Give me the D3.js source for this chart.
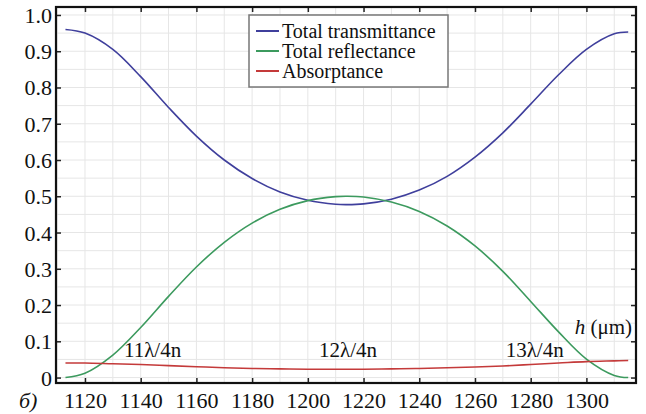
<!DOCTYPE html>
<html><head><meta charset="utf-8">
<script src="https://cdn.jsdelivr.net/npm/d3@7"></script>
<style>
@font-face{font-family:"ChartSerif";src:local("Liberation Serif"),local("LiberationSerif-Regular"),local("Tinos");font-style:normal;}
@font-face{font-family:"ChartSerif";src:local("Liberation Serif Italic"),local("LiberationSerif-Italic");font-style:italic;}
svg text, svg tspan{font-family:"Liberation Serif" !important;}
</style>
</head>
<body style="margin:0">
<svg id="chart" width="646" height="414"></svg>
<script>
// thickness h (µm)
const thickness = [1113,1120,1130,1140,1150,1160,1170,1180,1190,1200,1210,1214,1220,1230,1240,1250,1260,1270,1280,1290,1300,1310,1315];
const transmittance = [0.960,0.950,0.905,0.830,0.745,0.666,0.600,0.549,0.512,0.489,0.478,0.477,0.479,0.492,0.517,0.555,0.608,0.675,0.754,0.835,0.905,0.948,0.953];
const reflectance   = [0.000,0.012,0.062,0.138,0.224,0.305,0.373,0.426,0.464,0.488,0.499,0.500,0.498,0.484,0.458,0.418,0.363,0.293,0.210,0.126,0.051,0.006,0.000];
const absorptance   = [0.040,0.040,0.038,0.036,0.033,0.030,0.027,0.025,0.024,0.023,0.023,0.023,0.023,0.024,0.025,0.027,0.029,0.032,0.036,0.040,0.044,0.046,0.047];
const seriesNames = ["Total transmittance","Total reflectance","Absorptance"];
const seriesColors = ["#3f3f9c","#3c9a5e","#c43a3a"];
const xTicks = [1120,1140,1160,1180,1200,1220,1240,1260,1280,1300];
const yTicks = [0,0.1,0.2,0.3,0.4,0.5,0.6,0.7,0.8,0.9,1.0];
const annotations = [
  {text:"11λ/4n", h:1134, v:0.058},
  {text:"12λ/4n", h:1204, v:0.058},
  {text:"13λ/4n", h:1271, v:0.058}
];

const FONT = "'Liberation Serif'";
const svg = d3.select("#chart");
const L=56, R=636, T=7, B=383;
const x = d3.scaleLinear().domain([1109.6,1317.8]).range([L,R]);
const y = d3.scaleLinear().domain([-0.015,1.022]).range([B,T]);

function label(sel, size){
  return sel.attr("font-family","Liberation Serif").style("font-family",FONT)
    .attr("font-size",size).attr("fill","#111");
}

// grid
const g = svg.append("g");
g.selectAll("line.gx").data(d3.range(1110,1318,10)).enter().append("line")
  .attr("x1",d=>x(d)).attr("x2",d=>x(d)).attr("y1",T).attr("y2",B)
  .attr("stroke","#e6e6e6").attr("stroke-width",1);
g.selectAll("line.gy").data(d3.range(0,1.021,0.05)).enter().append("line")
  .attr("y1",d=>y(d)).attr("y2",d=>y(d)).attr("x1",L).attr("x2",R)
  .attr("stroke","#e6e6e6").attr("stroke-width",1);

// axes with inward ticks
const fmtY = d => d===0 ? "0" : d.toFixed(1);
const axL = svg.append("g").attr("transform",`translate(${L},0)`)
  .call(d3.axisLeft(y).tickValues(yTicks).tickSize(-5).tickPadding(4).tickFormat(fmtY));
const axB = svg.append("g").attr("transform",`translate(0,${B})`)
  .call(d3.axisBottom(x).tickValues(xTicks).tickSize(-5).tickFormat(d3.format("d")));
const axR = svg.append("g").attr("transform",`translate(${R},0)`)
  .call(d3.axisRight(y).tickValues(yTicks).tickSize(-5).tickFormat(""));
const axT = svg.append("g").attr("transform",`translate(0,${T})`)
  .call(d3.axisTop(x).tickValues(xTicks).tickSize(-5).tickFormat(""));
[axL,axB,axR,axT].forEach(a=>{
  a.attr("font-family","Liberation Serif").attr("font-size",22);
  a.select(".domain").remove();
  a.selectAll(".tick line").attr("stroke","#222").attr("stroke-width",1.5);
  label(a.selectAll("text"),22);
});
axL.selectAll("text").attr("x",-4).attr("dy","0.34em");
axB.selectAll("text").attr("y",25).attr("dy",0);

// frame
svg.append("rect").attr("x",L).attr("y",T).attr("width",R-L).attr("height",B-T)
  .attr("fill","none").attr("stroke","#111").attr("stroke-width",2.2);

// lines
const data = [transmittance, reflectance, absorptance];
const line = d3.line().x((d,i)=>x(thickness[i])).y(d=>y(d)).curve(d3.curveCatmullRom.alpha(0.5));
data.forEach((s,k)=>{
  svg.append("path").datum(s).attr("d",line).attr("fill","none")
    .attr("stroke",seriesColors[k]).attr("stroke-width",1.6);
});

// legend
const lg = svg.append("g");
lg.append("rect").attr("x",249).attr("y",15).attr("width",199).attr("height",72)
  .attr("fill","#fff").attr("stroke","#777").attr("stroke-width",1.5);
seriesNames.forEach((n,i)=>{
  const yy = 31 + i*20;
  lg.append("line").attr("x1",256).attr("x2",279).attr("y1",yy).attr("y2",yy)
    .attr("stroke",seriesColors[i]).attr("stroke-width",2);
  label(lg.append("text"),20).attr("x",282).attr("y",yy).attr("dy","0.35em").text(n);
});

// annotations
annotations.forEach(a=>{
  label(svg.append("text"),21).attr("x",x(a.h)).attr("y",y(a.v)).text(a.text);
});
const hl = label(svg.append("text"),21).attr("x",632).attr("y",y(0.12)).attr("text-anchor","end");
hl.append("tspan").attr("font-style","italic").text("h");
hl.append("tspan").text(" (μm)");

label(svg.append("text"),22).attr("x",19).attr("y",408).attr("font-style","italic").text("б)");
</script>
</body></html>
